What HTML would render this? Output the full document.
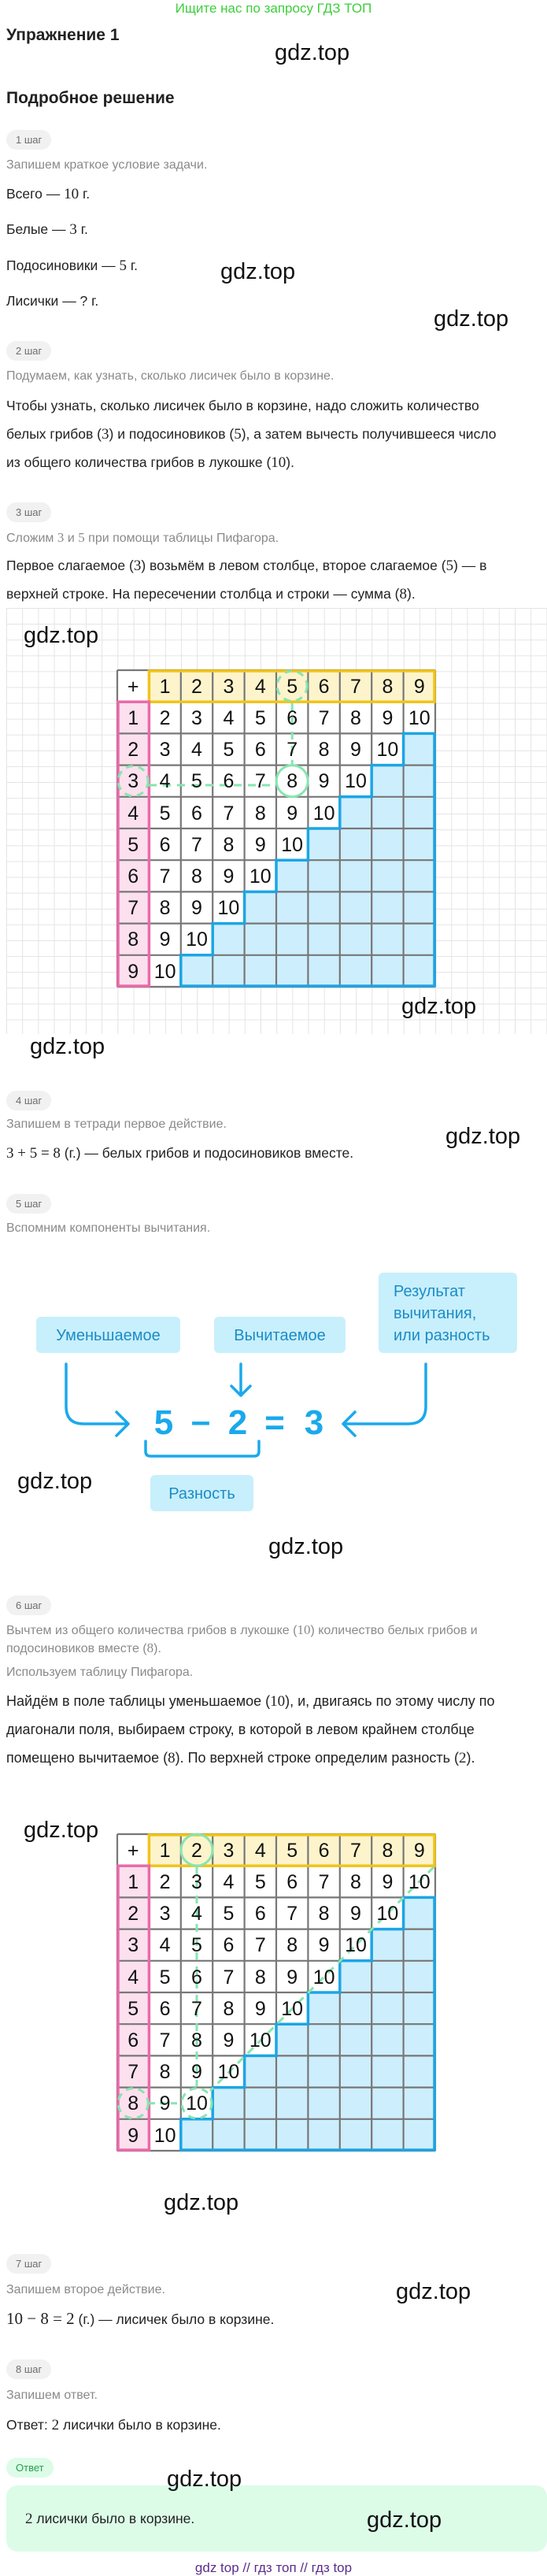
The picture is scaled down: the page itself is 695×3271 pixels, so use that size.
<!DOCTYPE html>
<html><head><meta charset="utf-8">
<style>
body{margin:0;width:695px;height:3270px;position:relative;background:#fff;font-family:"Liberation Sans","Noto Sans CJK SC",sans-serif;color:#222;overflow:hidden}
.t{position:absolute;white-space:nowrap;line-height:20px;font-size:17.5px}
.g{color:#8a8a8a;font-size:16px}
.m{font-family:"Liberation Serif",serif;font-size:19px}
.w{position:absolute;font-size:29px;line-height:34px;color:#111;white-space:nowrap}
.p{position:absolute;left:8px;height:25px;line-height:25px;border-radius:13px;background:#f1f1f1;color:#6d6d6d;font-size:13px;padding:0 12px}
svg{position:absolute;overflow:visible}
.n{font-family:"Liberation Sans",sans-serif;font-size:25px;text-anchor:middle;fill:#111}
</style></head><body>
<div class="t" style="left:0;width:695px;text-align:center;top:1px;color:#3ccf3c;font-size:17px">Ищите нас по запросу ГДЗ ТОП</div>
<div class="t" style="left:8px;top:34px;font-size:21px;line-height:22px;font-weight:bold">Упражнение 1</div>
<div class="t" style="left:8px;top:114px;font-size:21px;line-height:22px;font-weight:bold">Подробное решение</div>

<div class="p" style="top:165px">1 шаг</div>
<div class="t g" style="left:8px;top:200px">Запишем краткое условие задачи.</div>
<div class="t" style="left:8px;top:236px">Всего — <span class="m">10</span> г.</div>
<div class="t" style="left:8px;top:281px">Белые — <span class="m">3</span> г.</div>
<div class="t" style="left:8px;top:327px">Подосиновики — <span class="m">5</span> г.</div>
<div class="t" style="left:8px;top:372px">Лисички — ? г.</div>

<div class="p" style="top:433px">2 шаг</div>
<div class="t g" style="left:8px;top:468px">Подумаем, как узнать, сколько лисичек было в корзине.</div>
<div class="t" style="left:8px;top:505px">Чтобы узнать, сколько лисичек было в корзине, надо сложить количество</div>
<div class="t" style="left:8px;top:541px">белых грибов (<span class="m">3</span>) и подосиновиков (<span class="m">5</span>), а затем вычесть получившееся число</div>
<div class="t" style="left:8px;top:577px">из общего количества грибов в лукошке (<span class="m">10</span>).</div>

<div class="p" style="top:638px">3 шаг</div>
<div class="t g" style="left:8px;top:673px">Сложим <span class="m" style="font-size:17px">3</span> и <span class="m" style="font-size:17px">5</span> при помощи таблицы Пифагора.</div>
<div class="t" style="left:8px;top:708px">Первое слагаемое (<span class="m">3</span>) возьмём в левом столбце, второе слагаемое (<span class="m">5</span>) — в</div>
<div class="t" style="left:8px;top:744px">верхней строке. На пересечении столбца и строки — сумма (<span class="m">8</span>).</div>

<div style="position:absolute;left:8px;top:772px;width:687px;height:541px;background-image:linear-gradient(#e4e4e4 1px,transparent 1px),linear-gradient(90deg,#e4e4e4 1px,transparent 1px);background-size:20.2px 20.1px"></div>

<!-- TABLE 1 -->
<svg style="left:149px;top:851px" width="404" height="402">
<rect width="404" height="402" fill="#fff"/>
<rect x="40.4" y="0" width="363.6" height="40.2" fill="#fdf4cc"/>
<rect x="0" y="40.2" width="40.4" height="361.8" fill="#fce0ee"/>
<polygon points="363.6,80.4 404,80.4 404,402 80.8,402 80.8,361.8 121.2,361.8 121.2,321.6 161.6,321.6 161.6,281.4 202,281.4 202,241.2 242.4,241.2 242.4,201 282.8,201 282.8,160.8 323.2,160.8 323.2,120.6 363.6,120.6" fill="#cdeefd"/>
<g stroke="#777" stroke-width="2.2">
<path d="M0 0H404M0 40.2H404M0 80.4H404M0 120.6H404M0 160.8H404M0 201H404M0 241.2H404M0 281.4H404M0 321.6H404M0 361.8H404M0 402H404M0 0V402M40.4 0V402M80.8 0V402M121.2 0V402M161.6 0V402M202 0V402M242.4 0V402M282.8 0V402M323.2 0V402M363.6 0V402M404 0V402"/>
</g>
<rect x="40.4" y="1" width="362.6" height="39.2" fill="none" stroke="#f0c419" stroke-width="3.5"/>
<rect x="1" y="40.2" width="39.4" height="360.8" fill="none" stroke="#e96aa9" stroke-width="3.5"/>
<polygon points="363.6,80.4 403,80.4 403,401 80.8,401 80.8,361.8 121.2,361.8 121.2,321.6 161.6,321.6 161.6,281.4 202,281.4 202,241.2 242.4,241.2 242.4,201 282.8,201 282.8,160.8 323.2,160.8 323.2,120.6 363.6,120.6" fill="none" stroke="#1da5e5" stroke-width="3.5"/>
<g fill="none" stroke="#86e5b0" stroke-width="3">
<circle cx="222.2" cy="20.1" r="19" stroke-dasharray="9 7"/>
<circle cx="20.2" cy="140.7" r="19" stroke-dasharray="9 7"/>
<circle cx="222.2" cy="140.7" r="20"/>
<path d="M222.2 42V120" stroke-dasharray="10 8"/>
<path d="M40 146H201" stroke-dasharray="10 8"/>
</g>
<g>
<text class="n" x="20.2" y="29">+</text><text class="n" x="60.6" y="29">1</text><text class="n" x="101" y="29">2</text><text class="n" x="141.4" y="29">3</text><text class="n" x="181.8" y="29">4</text><text class="n" x="222.2" y="29">5</text><text class="n" x="262.6" y="29">6</text><text class="n" x="303" y="29">7</text><text class="n" x="343.4" y="29">8</text><text class="n" x="383.8" y="29">9</text>
<text class="n" x="20.2" y="69">1</text><text class="n" x="60.6" y="69">2</text><text class="n" x="101" y="69">3</text><text class="n" x="141.4" y="69">4</text><text class="n" x="181.8" y="69">5</text><text class="n" x="222.2" y="69">6</text><text class="n" x="262.6" y="69">7</text><text class="n" x="303" y="69">8</text><text class="n" x="343.4" y="69">9</text><text class="n" x="383.8" y="69">10</text>
<text class="n" x="20.2" y="109">2</text><text class="n" x="60.6" y="109">3</text><text class="n" x="101" y="109">4</text><text class="n" x="141.4" y="109">5</text><text class="n" x="181.8" y="109">6</text><text class="n" x="222.2" y="109">7</text><text class="n" x="262.6" y="109">8</text><text class="n" x="303" y="109">9</text><text class="n" x="343.4" y="109">10</text>
<text class="n" x="20.2" y="149">3</text><text class="n" x="60.6" y="149">4</text><text class="n" x="101" y="149">5</text><text class="n" x="141.4" y="149">6</text><text class="n" x="181.8" y="149">7</text><text class="n" x="222.2" y="149">8</text><text class="n" x="262.6" y="149">9</text><text class="n" x="303" y="149">10</text>
<text class="n" x="20.2" y="190">4</text><text class="n" x="60.6" y="190">5</text><text class="n" x="101" y="190">6</text><text class="n" x="141.4" y="190">7</text><text class="n" x="181.8" y="190">8</text><text class="n" x="222.2" y="190">9</text><text class="n" x="262.6" y="190">10</text>
<text class="n" x="20.2" y="230">5</text><text class="n" x="60.6" y="230">6</text><text class="n" x="101" y="230">7</text><text class="n" x="141.4" y="230">8</text><text class="n" x="181.8" y="230">9</text><text class="n" x="222.2" y="230">10</text>
<text class="n" x="20.2" y="270">6</text><text class="n" x="60.6" y="270">7</text><text class="n" x="101" y="270">8</text><text class="n" x="141.4" y="270">9</text><text class="n" x="181.8" y="270">10</text>
<text class="n" x="20.2" y="310">7</text><text class="n" x="60.6" y="310">8</text><text class="n" x="101" y="310">9</text><text class="n" x="141.4" y="310">10</text>
<text class="n" x="20.2" y="350">8</text><text class="n" x="60.6" y="350">9</text><text class="n" x="101" y="350">10</text>
<text class="n" x="20.2" y="391">9</text><text class="n" x="60.6" y="391">10</text>
</g>
</svg>

<div class="p" style="top:1385px">4 шаг</div>
<div class="t g" style="left:8px;top:1418px">Запишем в тетради первое действие.</div>
<div class="t" style="left:8px;top:1454px"><span class="m">3 + 5 = 8</span> (г.) — белых грибов и подосиновиков вместе.</div>

<div class="p" style="top:1516px">5 шаг</div>
<div class="t g" style="left:8px;top:1550px">Вспомним компоненты вычитания.</div>

<svg style="left:0;top:0" width="695" height="3270">
<g fill="#c8effc">
<rect x="46" y="1672" width="183" height="46" rx="6"/>
<rect x="272" y="1672" width="167" height="46" rx="6"/>
<rect x="481" y="1616" width="176" height="102" rx="6"/>
<rect x="191" y="1873" width="131" height="46" rx="6"/>
</g>
<g font-family="Liberation Sans, sans-serif" font-size="20" fill="#1b8cc6">
<text x="137.5" y="1702" text-anchor="middle">Уменьшаемое</text>
<text x="355.5" y="1702" text-anchor="middle">Вычитаемое</text>
<text x="500" y="1646">Результат</text>
<text x="500" y="1674">вычитания,</text>
<text x="500" y="1702">или разность</text>
<text x="256.5" y="1903" text-anchor="middle">Разность</text>
</g>
<g font-family="Liberation Sans, sans-serif" font-size="44" font-weight="bold" fill="#1aa9ec" text-anchor="middle">
<text x="208" y="1821">5</text><text x="255" y="1819">–</text><text x="302" y="1821">2</text><text x="349" y="1821">=</text><text x="399" y="1821">3</text>
</g>
<g fill="none" stroke="#1aa9ec" stroke-width="3.5" stroke-linecap="round" stroke-linejoin="round">
<path d="M84 1732V1786Q84 1808 106 1808H162M148 1793L163 1808L148 1823"/>
<path d="M306 1732V1772M294 1760L306 1772L318 1760"/>
<path d="M541 1732V1786Q541 1808 519 1808H437M451 1793L436 1808L451 1823"/>
<path d="M185 1830V1843Q185 1849 191 1849H323Q329 1849 329 1843V1830"/>
</g>
</svg>

<div class="p" style="top:2026px">6 шаг</div>
<div class="t g" style="left:8px;top:2060px">Вычтем из общего количества грибов в лукошке (<span class="m" style="font-size:17px">10</span>) количество белых грибов и</div>
<div class="t g" style="left:8px;top:2083px">подосиновиков вместе (<span class="m" style="font-size:17px">8</span>).</div>
<div class="t g" style="left:8px;top:2114px">Используем таблицу Пифагора.</div>
<div class="t" style="left:8px;top:2150px;font-size:18px">Найдём в поле таблицы уменьшаемое (<span class="m">10</span>), и, двигаясь по этому числу по</div>
<div class="t" style="left:8px;top:2186px;font-size:18px">диагонали поля, выбираем строку, в которой в левом крайнем столбце</div>
<div class="t" style="left:8px;top:2222px;font-size:18px">помещено вычитаемое (<span class="m">8</span>). По верхней строке определим разность (<span class="m">2</span>).</div>

<!-- TABLE 2 -->
<svg style="left:149px;top:2329px" width="404" height="402">
<rect width="404" height="402" fill="#fff"/>
<rect x="40.4" y="0" width="363.6" height="40.2" fill="#fdf4cc"/>
<rect x="0" y="40.2" width="40.4" height="361.8" fill="#fce0ee"/>
<polygon points="363.6,80.4 404,80.4 404,402 80.8,402 80.8,361.8 121.2,361.8 121.2,321.6 161.6,321.6 161.6,281.4 202,281.4 202,241.2 242.4,241.2 242.4,201 282.8,201 282.8,160.8 323.2,160.8 323.2,120.6 363.6,120.6" fill="#cdeefd"/>
<g stroke="#777" stroke-width="2.2">
<path d="M0 0H404M0 40.2H404M0 80.4H404M0 120.6H404M0 160.8H404M0 201H404M0 241.2H404M0 281.4H404M0 321.6H404M0 361.8H404M0 402H404M0 0V402M40.4 0V402M80.8 0V402M121.2 0V402M161.6 0V402M202 0V402M242.4 0V402M282.8 0V402M323.2 0V402M363.6 0V402M404 0V402"/>
</g>
<rect x="40.4" y="1" width="362.6" height="39.2" fill="none" stroke="#f0c419" stroke-width="3.5"/>
<rect x="1" y="40.2" width="39.4" height="360.8" fill="none" stroke="#e96aa9" stroke-width="3.5"/>
<polygon points="363.6,80.4 403,80.4 403,401 80.8,401 80.8,361.8 121.2,361.8 121.2,321.6 161.6,321.6 161.6,281.4 202,281.4 202,241.2 242.4,241.2 242.4,201 282.8,201 282.8,160.8 323.2,160.8 323.2,120.6 363.6,120.6" fill="none" stroke="#1da5e5" stroke-width="3.5"/>
<g fill="none" stroke="#86e5b0" stroke-width="3">
<circle cx="101" cy="20.1" r="20"/>
<circle cx="20.2" cy="341.7" r="19" stroke-dasharray="9 7"/>
<circle cx="101" cy="341.7" r="19" stroke-dasharray="9 7"/>
<path d="M101 42V320" stroke-dasharray="10 8"/>
<path d="M40 341.7H81" stroke-dasharray="8 6"/>
<path d="M402 42L118 326" stroke-dasharray="10 8"/>
</g>
<g>
<text class="n" x="20.2" y="29">+</text><text class="n" x="60.6" y="29">1</text><text class="n" x="101" y="29">2</text><text class="n" x="141.4" y="29">3</text><text class="n" x="181.8" y="29">4</text><text class="n" x="222.2" y="29">5</text><text class="n" x="262.6" y="29">6</text><text class="n" x="303" y="29">7</text><text class="n" x="343.4" y="29">8</text><text class="n" x="383.8" y="29">9</text>
<text class="n" x="20.2" y="69">1</text><text class="n" x="60.6" y="69">2</text><text class="n" x="101" y="69">3</text><text class="n" x="141.4" y="69">4</text><text class="n" x="181.8" y="69">5</text><text class="n" x="222.2" y="69">6</text><text class="n" x="262.6" y="69">7</text><text class="n" x="303" y="69">8</text><text class="n" x="343.4" y="69">9</text><text class="n" x="383.8" y="69">10</text>
<text class="n" x="20.2" y="109">2</text><text class="n" x="60.6" y="109">3</text><text class="n" x="101" y="109">4</text><text class="n" x="141.4" y="109">5</text><text class="n" x="181.8" y="109">6</text><text class="n" x="222.2" y="109">7</text><text class="n" x="262.6" y="109">8</text><text class="n" x="303" y="109">9</text><text class="n" x="343.4" y="109">10</text>
<text class="n" x="20.2" y="149">3</text><text class="n" x="60.6" y="149">4</text><text class="n" x="101" y="149">5</text><text class="n" x="141.4" y="149">6</text><text class="n" x="181.8" y="149">7</text><text class="n" x="222.2" y="149">8</text><text class="n" x="262.6" y="149">9</text><text class="n" x="303" y="149">10</text>
<text class="n" x="20.2" y="190">4</text><text class="n" x="60.6" y="190">5</text><text class="n" x="101" y="190">6</text><text class="n" x="141.4" y="190">7</text><text class="n" x="181.8" y="190">8</text><text class="n" x="222.2" y="190">9</text><text class="n" x="262.6" y="190">10</text>
<text class="n" x="20.2" y="230">5</text><text class="n" x="60.6" y="230">6</text><text class="n" x="101" y="230">7</text><text class="n" x="141.4" y="230">8</text><text class="n" x="181.8" y="230">9</text><text class="n" x="222.2" y="230">10</text>
<text class="n" x="20.2" y="270">6</text><text class="n" x="60.6" y="270">7</text><text class="n" x="101" y="270">8</text><text class="n" x="141.4" y="270">9</text><text class="n" x="181.8" y="270">10</text>
<text class="n" x="20.2" y="310">7</text><text class="n" x="60.6" y="310">8</text><text class="n" x="101" y="310">9</text><text class="n" x="141.4" y="310">10</text>
<text class="n" x="20.2" y="350">8</text><text class="n" x="60.6" y="350">9</text><text class="n" x="101" y="350">10</text>
<text class="n" x="20.2" y="391">9</text><text class="n" x="60.6" y="391">10</text>
</g>
</svg>

<div class="p" style="top:2862px">7 шаг</div>
<div class="t g" style="left:8px;top:2898px">Запишем второе действие.</div>
<div class="t" style="left:8px;top:2934px"><span class="m" style="font-size:21px">10 − 8 = 2</span> (г.) — лисичек было в корзине.</div>
<div class="p" style="top:2996px">8 шаг</div>
<div class="t g" style="left:8px;top:3032px">Запишем ответ.</div>
<div class="t" style="left:8px;top:3069px">Ответ: <span class="m">2</span> лисички было в корзине.</div>
<div class="p" style="top:3121px;background:#dcfce7;color:#2a9d4c">Ответ</div>
<div style="position:absolute;left:8px;top:3156px;width:687px;height:84px;background:#dcfce8;border-radius:14px"></div>
<div class="t" style="left:32px;top:3188px"><span class="m">2</span> лисички было в корзине.</div>
<div class="t" style="left:0;width:695px;text-align:center;top:3251px;color:#5a2d8c;font-size:17px">gdz top // гдз топ // гдз top</div>

<div class="w" style="left:349px;top:50px">gdz.top</div>
<div class="w" style="left:280px;top:328px">gdz.top</div>
<div class="w" style="left:551px;top:388px">gdz.top</div>
<div class="w" style="left:30px;top:790px">gdz.top</div>
<div class="w" style="left:510px;top:1261px">gdz.top</div>
<div class="w" style="left:38px;top:1312px">gdz.top</div>
<div class="w" style="left:566px;top:1426px">gdz.top</div>
<div class="w" style="left:22px;top:1864px">gdz.top</div>
<div class="w" style="left:341px;top:1947px">gdz.top</div>
<div class="w" style="left:30px;top:2307px">gdz.top</div>
<div class="w" style="left:208px;top:2780px">gdz.top</div>
<div class="w" style="left:503px;top:2893px">gdz.top</div>
<div class="w" style="left:212px;top:3131px">gdz.top</div>
<div class="w" style="left:466px;top:3183px">gdz.top</div>
</body></html>
